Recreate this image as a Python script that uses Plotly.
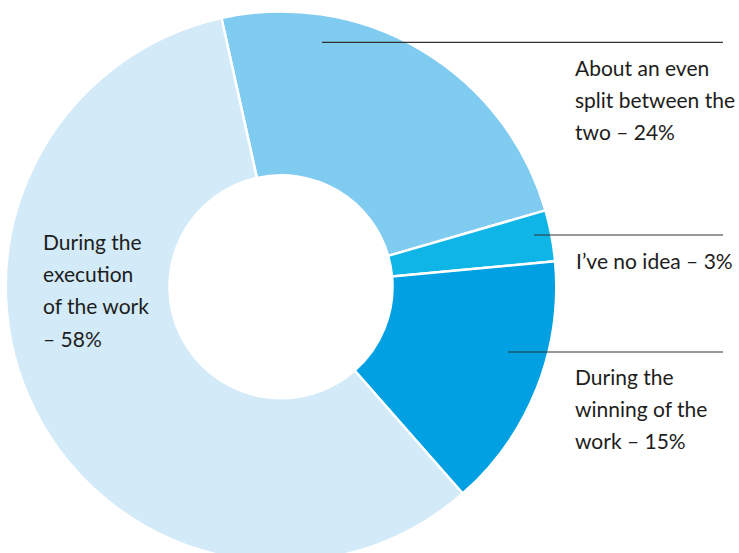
import plotly.graph_objects as go

# ---- data ----
categories = ["About an even split between the two", "I've no idea",
              "During the winning of the work", "During the execution of the work"]
values = [24, 3, 15, 58]
colors = ["#80CBF0", "#0EB5E6", "#00A0E2", "#D3EAF8"]
label_templates = [
    ["About an even", "split between the", "two – {}%"],
    ["I’ve no idea – {}%"],
    ["During the", "winning of the", "work – {}%"],
    ["During the", "execution", "of the work", "– {}%"],
]

# ---- layout (pixels) ----
W = 739
cx, cy, R = 281, 287, 275.5
H = int(round(cy + R))
hole = 111 / 274
label_x = [574, 575, 574, 42]
label_base = [75.7, 268.3, 385.0, 249.3]
line_gap = [32.0, 32.0, 32.0, 32.3]
leaders = [(322, 723, 42.3), (534, 723, 235.0), (508, 723, 352.0), None]
FS = 21
FONT = "Lato"
TXT = "#1d1d1b"

fig = go.Figure(go.Pie(
    labels=categories, values=values, sort=False, direction="clockwise",
    rotation=-12.5, hole=hole, textinfo="none", hoverinfo="label+percent",
    marker=dict(colors=colors, line=dict(color="white", width=2.5)),
    domain=dict(x=[(cx - R) / W, (cx + R) / W], y=[0, 1 - (cy - R) / H]),
    showlegend=False,
))

def py(v):
    return 1 - v / H

annotations = []
shapes = []
for i, tpl in enumerate(label_templates):
    for j, line in enumerate(tpl):
        text = line.format(values[i]) if "{}" in line else line
        base = label_base[i] + j * line_gap[i]
        annotations.append(dict(
            x=label_x[i] / W, y=py(base - 0.387 * FS), xref="paper", yref="paper",
            xanchor="left", yanchor="middle", showarrow=False, text=text,
            font=dict(family=FONT, size=FS, color=TXT), borderpad=0,
        ))
    if leaders[i]:
        x0, x1, yy = leaders[i]
        shapes.append(dict(type="line", xref="paper", yref="paper",
                           x0=x0 / W, x1=x1 / W, y0=py(yy), y1=py(yy),
                           line=dict(color="#333333", width=1.2)))

fig.update_layout(
    width=W, height=H, margin=dict(l=0, r=0, t=0, b=0),
    paper_bgcolor="white", plot_bgcolor="white",
    annotations=annotations, shapes=shapes,
)
fig.write_html("out.html")
